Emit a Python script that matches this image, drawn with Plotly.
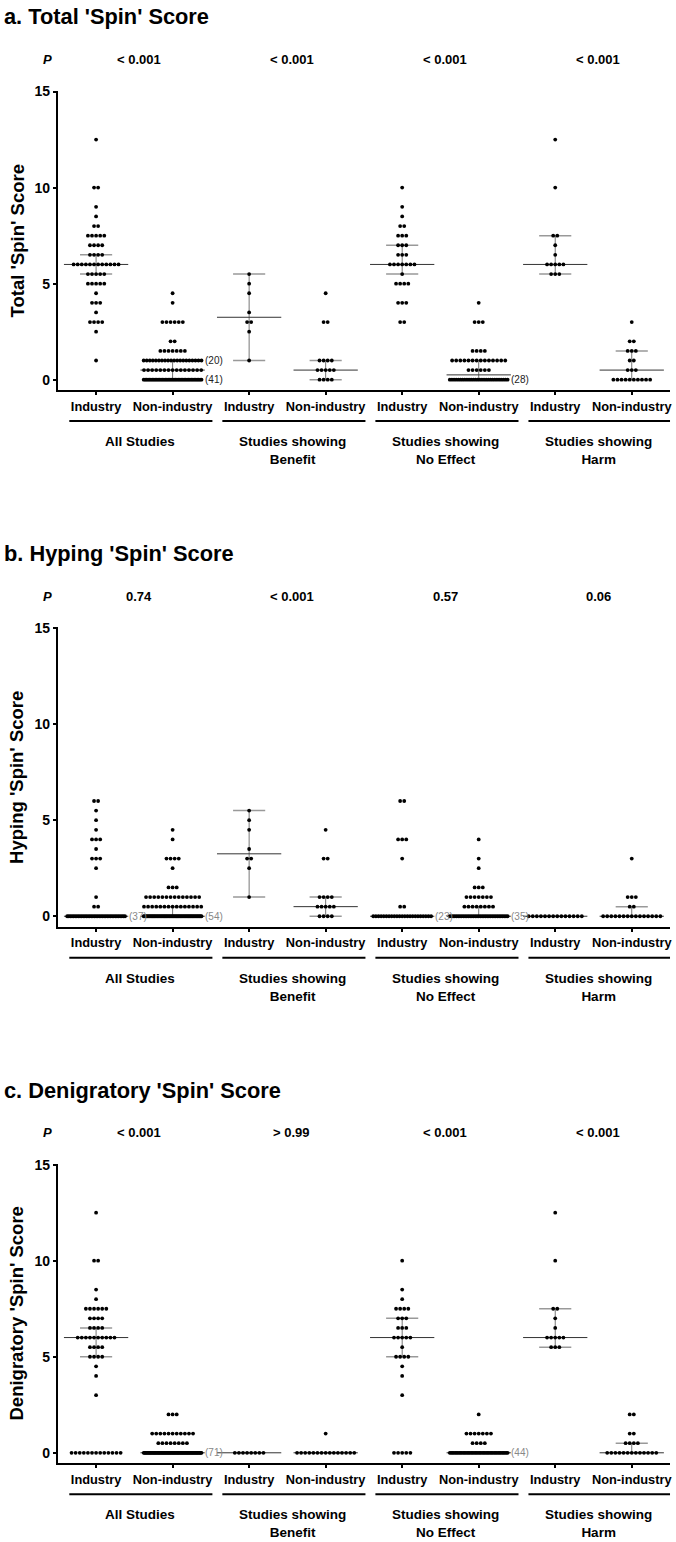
import plotly.graph_objects as go

W, H = 676, 1542

categories = ["Industry", "Non-industry"] * 4
groups = ["All Studies", "Studies showing<br>Benefit", "Studies showing<br>No Effect", "Studies showing<br>Harm"]

titles = ["a. Total 'Spin' Score", "b. Hyping 'Spin' Score", "c. Denigratory 'Spin' Score"]
y_titles = ["Total 'Spin' Score", "Hyping 'Spin' Score", "Denigratory 'Spin' Score"]

p_total = ["< 0.001", "< 0.001", "< 0.001", "< 0.001"]
p_hyping = ["0.74", "< 0.001", "0.57", "0.06"]
p_denig = ["< 0.001", "> 0.99", "< 0.001", "< 0.001"]

# number of studies at each score, one dict per column
total_counts = [
    {12.5: 1, 10: 2, 9: 1, 8.5: 1, 8: 2, 7.5: 5, 7: 4, 6.5: 4, 6: 12, 5.5: 5, 5: 5, 4.5: 1, 4: 3, 3.5: 1, 3: 4, 2.5: 1, 1: 1},
    {4.5: 1, 4: 1, 3: 6, 2: 2, 1.5: 7, 1: 20, 0.5: 15, 0: 41},
    {5.5: 1, 5: 1, 4.5: 1, 3.5: 1, 3: 2, 2.5: 1, 1: 1},
    {4.5: 1, 3: 2, 1: 4, 0.5: 5, 0: 4},
    {10: 1, 9: 1, 8.5: 1, 8: 2, 7.5: 3, 7: 3, 6.5: 3, 6: 7, 5.5: 1, 5: 4, 4: 3, 3: 2},
    {4: 1, 3: 3, 1.5: 4, 1: 14, 0.5: 6, 0: 28},
    {12.5: 1, 10: 1, 7.5: 2, 7: 1, 6.5: 1, 6: 5, 5.5: 3},
    {3: 1, 2: 2, 1.5: 3, 1: 2, 0.5: 3, 0: 10},
]
total_median = [6, 0.5, 3.25, 0.5, 6, 0.25, 6, 0.5]
total_q1 = [5.5, 0, 1, 0, 5.5, 0, 5.5, 0]
total_q3 = [6.5, 1, 5.5, 1, 7, 1, 7.5, 1.5]

hyping_counts = [
    {6: 2, 5.5: 1, 5: 1, 4.5: 1, 4: 3, 3.5: 1, 3: 3, 2.5: 1, 1: 1, 0.5: 2, 0: 37},
    {4.5: 1, 4: 1, 3: 4, 2.5: 1, 1.5: 3, 1: 14, 0.5: 15, 0: 54},
    {5.5: 1, 5: 1, 4.5: 1, 3.5: 1, 3: 2, 2.5: 1, 1: 1},
    {4.5: 1, 3: 2, 1: 4, 0.5: 5, 0: 4},
    {6: 2, 4: 3, 3: 1, 0.5: 2, 0: 23},
    {4: 1, 3: 1, 2.5: 1, 1.5: 3, 1: 7, 0.5: 8, 0: 35},
    {0: 14},
    {3: 1, 1: 3, 0.5: 2, 0: 15},
]
hyping_median = [0, 0, 3.25, 0.5, 0, 0, 0, 0]
hyping_q1 = [0, 0, 1, 0, 0, 0, 0, 0]
hyping_q3 = [0, 0.5, 5.5, 1, 0, 0.5, 0, 0.5]

denig_counts = [
    {12.5: 1, 10: 2, 8.5: 1, 8: 1, 7.5: 6, 7: 4, 6.5: 4, 6: 10, 5.5: 4, 5: 4, 4.5: 1, 4: 1, 3: 1, 0: 13},
    {2: 3, 1: 11, 0.5: 8, 0: 71},
    {0: 8},
    {1: 1, 0: 15},
    {10: 1, 8.5: 1, 8: 1, 7.5: 4, 7: 3, 6.5: 3, 6: 5, 5.5: 1, 5: 4, 4.5: 1, 4: 1, 3: 1, 0: 5},
    {2: 1, 1: 7, 0.5: 4, 0: 44},
    {12.5: 1, 10: 1, 7.5: 2, 7: 1, 6.5: 1, 6: 5, 5.5: 3},
    {2: 2, 1: 2, 0.5: 4, 0: 13},
]
denig_median = [6, 0, 0, 0, 6, 0, 6, 0]
denig_q1 = [5, 0, 0, 0, 5, 0, 5.5, 0]
denig_q3 = [6.5, 0, 0, 0, 7, 0, 7.5, 0.5]

panels = [
    (total_counts, total_median, total_q1, total_q3, p_total, "#222"),
    (hyping_counts, hyping_median, hyping_q1, hyping_q3, p_hyping, "#888"),
    (denig_counts, denig_median, denig_q1, denig_q3, p_denig, "#888"),
]

FONT = "Liberation Sans, Arial, sans-serif"
X0, X1 = 58, 672
unit = (X1 - X0) / 8.0          # px per category
step = 4.1 / unit               # dot spacing
maxw = 58 / unit                # widest a row of dots gets
offset = 539                    # px between panels
plot_top, plot_bot = 84, 385    # panel a plot area in px

def py(px):
    return 1 - px / H

fig = go.Figure()
annotations = []
shapes = []

for i, (counts, med, q1, q3, pvals, lab_col) in enumerate(panels):
    ax = "" if i == 0 else str(i + 1)
    xref, yref = "x" + ax, "y" + ax
    dy = i * offset

    # median / quartile lines
    for c in range(8):
        fig.add_trace(go.Scatter(x=[c, c], y=[q1[c], q3[c]], mode="lines",
                                 line=dict(color="#777", width=1),
                                 xaxis=xref, yaxis=yref, hoverinfo="skip", showlegend=False))
        for q in (q1[c], q3[c]):
            fig.add_trace(go.Scatter(x=[c - 0.21, c + 0.21], y=[q, q], mode="lines",
                                     line=dict(color="#999", width=1.5),
                                     xaxis=xref, yaxis=yref, hoverinfo="skip", showlegend=False))
        fig.add_trace(go.Scatter(x=[c - 0.42, c + 0.42], y=[med[c], med[c]], mode="lines",
                                 line=dict(color="#333", width=1),
                                 xaxis=xref, yaxis=yref, hoverinfo="skip", showlegend=False))

    # dots, centred in rows
    xs, ys = [], []
    for c, col in enumerate(counts):
        for v, n in col.items():
            s = step if n < 2 else min(step, maxw / (n - 1))
            for k in range(n):
                xs.append(c + (k - (n - 1) / 2) * s)
                ys.append(v)
            if n >= 20:
                annotations.append(dict(x=c + min(step * (n - 1), maxw) / 2 + 0.02, y=v,
                                        xref=xref, yref=yref, text=f"({n})", showarrow=False,
                                        xanchor="left", yanchor="middle",
                                        font=dict(size=10, color=lab_col, family=FONT)))
    fig.add_trace(go.Scatter(x=xs, y=ys, mode="markers",
                             marker=dict(size=3.8, color="black"),
                             xaxis=xref, yaxis=yref, hoverinfo="skip", showlegend=False))

    fig.update_layout({
        "xaxis" + ax: dict(domain=[X0 / W, X1 / W], range=[-0.5, 7.5], anchor=yref,
                           tickvals=list(range(8)), ticktext=categories,
                           showline=True, linecolor="black", linewidth=2,
                           ticks="outside", ticklen=3, tickwidth=2, tickcolor="black",
                           showgrid=False, zeroline=False,
                           tickfont=dict(size=12.8, color="black", family=FONT, weight="bold")),
        "yaxis" + ax: dict(domain=[py(plot_bot + dy), py(plot_top + dy)], range=[-0.55, 15.05],
                           anchor=xref, tickvals=[0, 5, 10, 15],
                           showline=True, linecolor="black", linewidth=2,
                           ticks="outside", ticklen=3, tickwidth=2, tickcolor="black",
                           showgrid=False, zeroline=False,
                           tickfont=dict(size=14, color="black", family=FONT, weight="bold")),
    })

    # titles and labels
    annotations.append(dict(x=2 / W, y=py(10 + dy), xref="paper", yref="paper", text=f"<b>{titles[i]}</b>",
                            showarrow=False, xanchor="left", yanchor="middle",
                            font=dict(size=21.8, color="black", family=FONT)))
    annotations.append(dict(x=17 / W, y=py((plot_top + plot_bot) / 2 + dy), xref="paper", yref="paper",
                            text=f"<b>{y_titles[i]}</b>", textangle=-90, showarrow=False,
                            xanchor="center", yanchor="middle",
                            font=dict(size=18.5, color="black", family=FONT)))
    annotations.append(dict(x=48 / W, y=py(53 + dy), xref="paper", yref="paper", text="<b><i>P</i></b>",
                            showarrow=False, xanchor="center", yanchor="middle",
                            font=dict(size=13, color="black", family=FONT)))
    for g in range(4):
        annotations.append(dict(x=2 * g + 0.56, y=py(53 + dy), xref=xref, yref="paper",
                                text=f"<b>{pvals[g]}</b>", showarrow=False,
                                xanchor="center", yanchor="middle",
                                font=dict(size=13, color="black", family=FONT)))
        annotations.append(dict(x=2 * g + 0.57, y=py(427 + dy), xref=xref, yref="paper",
                                text=f"<b>{groups[g]}</b>", showarrow=False,
                                xanchor="center", yanchor="top",
                                font=dict(size=13.5, color="black", family=FONT)))
        shapes.append(dict(type="line", xref=xref, yref="paper",
                           x0=2 * g - 0.35, x1=2 * g + 1.52, y0=py(416 + dy), y1=py(416 + dy),
                           line=dict(color="black", width=2)))

fig.update_layout(
    width=W, height=H,
    margin=dict(l=0, r=0, t=0, b=0),
    plot_bgcolor="white", paper_bgcolor="white",
    annotations=annotations, shapes=shapes,
    font=dict(family=FONT, color="black"),
)

fig.write_html("out.html", config={"displayModeBar": False},
               post_script="document.body.style.margin='0';")
